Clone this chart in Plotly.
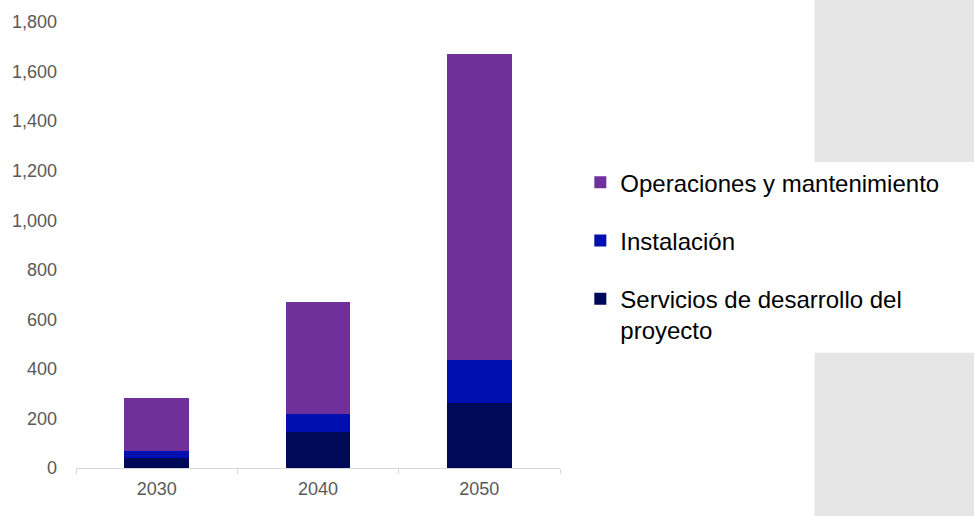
import plotly.graph_objects as go

# Data
years = ["2030", "2040", "2050"]
dev_services = [40, 146, 262]
installation = [28, 73, 175]
operations = [213, 452, 1235]

series_names = [
    "Servicios de desarrollo del<br>proyecto",
    "Instalación",
    "Operaciones y mantenimiento",
]
series_colors = ["#000957", "#0010B0", "#70309C"]
legend_ranks = [3, 2, 1]
y_ticks = [0, 200, 400, 600, 800, 1000, 1200, 1400, 1600, 1800]

fig = go.Figure()
for name, vals, color, rank in zip(series_names, [dev_services, installation, operations],
                                   series_colors, legend_ranks):
    fig.add_trace(go.Bar(
        x=years,
        y=vals,
        name=name,
        legendgroup=name,
        legendrank=rank,
        marker=dict(color=color, line=dict(width=0)),
        width=0.4,
    ))

# grey blocks on the right edge of the slide
shapes = [
    dict(type="rect", xref="paper", yref="paper", x0=1.5258, x1=1.9, y0=0.686, y1=1.1,
         fillcolor="#E6E6E6", line=dict(width=0), layer="below"),
    dict(type="rect", xref="paper", yref="paper", x0=1.5258, x1=1.9, y0=-0.2, y1=0.2583,
         fillcolor="#E6E6E6", line=dict(width=0), layer="below"),
]

fig.update_layout(
    barmode="stack",
    width=974,
    height=516,
    margin=dict(l=75, r=414, t=19, b=48),
    plot_bgcolor="white",
    paper_bgcolor="white",
    font=dict(family="Liberation Sans, Arial, sans-serif", color="#595959"),
    showlegend=True,
    shapes=shapes,
    legend=dict(
        x=1.042, xanchor="left",
        y=0.69, yanchor="top",
        traceorder="grouped",
        tracegroupgap=24,
        valign="top",
        font=dict(size=24, color="#000000"),
        itemwidth=30,
        bgcolor="rgba(0,0,0,0)",
    ),
    xaxis=dict(
        showline=True,
        linecolor="#D9D9D9",
        linewidth=1,
        ticks="outside",
        tickson="boundaries",
        tickcolor="#D9D9D9",
        ticklen=5,
        ticklabelstandoff=4,
        tickfont=dict(size=18, color="#595959"),
        showgrid=False,
    ),
    yaxis=dict(
        range=[0, 1800],
        tickvals=y_ticks,
        tickformat=",",
        showgrid=False,
        zeroline=False,
        showline=False,
        ticks="",
        ticklabelstandoff=18,
        tickfont=dict(size=18, color="#595959"),
    ),
)

fig.write_html("out.html", config={"displayModeBar": False},
               post_script="document.body.style.margin='0';")
